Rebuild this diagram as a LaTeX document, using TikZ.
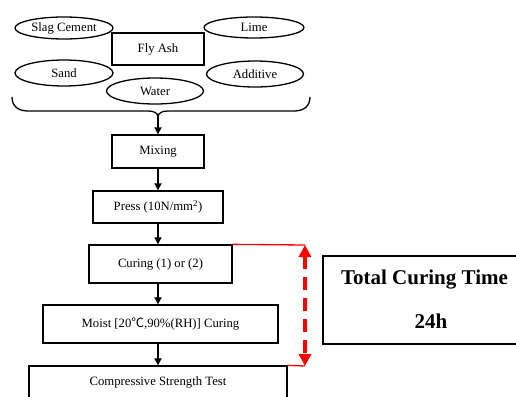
\documentclass[tikz,border=0pt]{standalone}
\usepackage{fontspec}
\setmainfont{Liberation Serif}
\newfontfamily\cjk{Noto Sans CJK SC}
\usetikzlibrary{shapes.geometric,arrows.meta}
\begin{document}
\begin{tikzpicture}[x=1pt,y=-1pt,
  every node/.style={font=\fontsize{12.7}{15}\selectfont, inner sep=0pt},
  ell/.style={ellipse, draw, line width=1.3pt},
  box/.style={rectangle, draw, line width=1.3pt},
  flow/.style={line width=1.7pt, -{Triangle[length=7pt,width=7pt]}},
  redline/.style={red, line width=1.3pt},
  redarrow/.style={red, line width=3.2pt, dash pattern=on 13pt off 8pt,
    {Triangle[length=12pt,width=12pt]}-{Triangle[length=12pt,width=12pt]}},
  bigtext/.style={font=\fontsize{21}{25}\selectfont\bfseries}]
\useasboundingbox (0,0) rectangle (516,396);
\clip (0,0) rectangle (516,396);
% ingredients
\node[ell, minimum width=98pt, minimum height=22pt] (slag) at (64,28) {Slag Cement};
\node[ell, minimum width=100pt, minimum height=21pt] (lime) at (254,27.5) {Lime};
\node[box, minimum width=92pt, minimum height=32pt] (fly) at (158,49) {Fly Ash};
\node[ell, minimum width=98pt, minimum height=26pt] (sand) at (64,73) {Sand};
\node[ell, minimum width=97pt, minimum height=26pt] (add) at (255,74) {Additive};
\node[ell, minimum width=97pt, minimum height=26pt] (water) at (155,91) {Water};
% brace
\coordinate (bt) at (158,117);
\draw[line width=1.3pt] (12,97) .. controls (12,106) and (18,111) .. (28,111) -- (148,111)
  .. controls (154,111) and (158,113) .. (bt)
  .. controls (158,113) and (162,111) .. (168,111) -- (294,111)
  .. controls (304,111) and (310,106) .. (310,97);
% process
\node[box, minimum width=92pt, minimum height=33pt] (mix) at (158,151.5) {Mixing};
\node[box, minimum width=130pt, minimum height=32pt] (press) at (158,207) {Press (10N/mm\textsuperscript{2})};
\node[box, minimum width=143pt, minimum height=38pt] (cur) at (160.5,264) {Curing (1) or (2)};
\node[box, minimum width=235pt, minimum height=38pt] (moist) at (160.5,324) {Moist [20{\cjk ℃},90\%(RH)] Curing};
\node[box, minimum width=258pt, minimum height=32pt] (comp) at (158,382) {Compressive Strength Test};
\draw[flow] (bt) -- (mix.north);
\draw[flow] (mix.south) -- (press.north);
\draw[flow] (press.south) -- (press.south |- cur.north);
\draw[flow] (press.south |- cur.south) -- (press.south |- moist.north);
\draw[flow] (press.south |- moist.south) -- (comp.north);
% total curing time
\node[box, minimum width=203pt, minimum height=88pt] (total) at (424.5,300) {};
\node[bigtext] (tt) at (424.5,280) {Total Curing Time};
\node[bigtext] (th) at (431,321) {24h};
\coordinate (rt) at (305,245);
\coordinate (rb) at (305,366);
\draw[redline] (cur.north east) -- (rt);
\draw[redline] (comp.north east) -- (rb);
\draw[redarrow] (rt) -- (rb);
\end{tikzpicture}
\end{document}
